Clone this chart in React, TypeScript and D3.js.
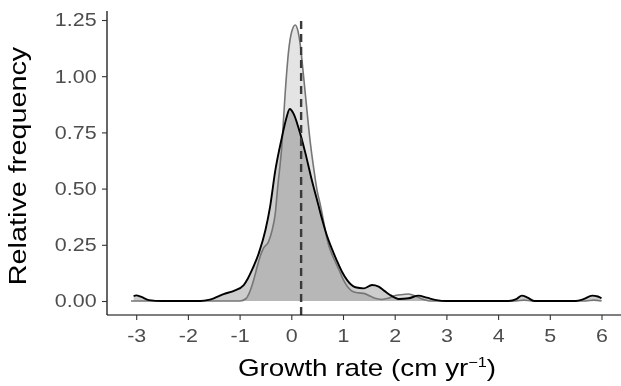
import React, { useEffect, useRef } from "react";
import * as d3 from "d3";

// density of growth rate, light series (gray outline)
const lightX = [-3.1, -2.0, -1.2, -0.99, -0.88, -0.79, -0.72, -0.66, -0.6, -0.54, -0.44, -0.37, -0.31, -0.27, -0.18, -0.12, -0.05, 0.01, 0.077, 0.13, 0.17, 0.22, 0.27, 0.37, 0.44, 0.5, 0.56, 0.62, 0.66, 0.72, 0.82, 0.92, 1.01, 1.1, 1.2, 1.3, 1.4, 1.52, 1.62, 1.75, 1.87, 1.98, 2.12, 2.27, 2.43, 2.56, 2.69, 2.9, 4.35, 4.5, 4.65, 5.7, 5.85, 6.0];
const lightY = [0, 0, 0, 0, 0.01, 0.049, 0.1, 0.152, 0.2, 0.234, 0.264, 0.316, 0.39, 0.49, 0.7, 0.92, 1.117, 1.2, 1.228, 1.2, 1.146, 1.04, 0.924, 0.7, 0.58, 0.49, 0.43, 0.36, 0.31, 0.25, 0.19, 0.14, 0.093, 0.06, 0.041, 0.036, 0.034, 0.022, 0.012, 0.007, 0.012, 0.022, 0.028, 0.031, 0.019, 0.007, 0, 0, 0, 0.004, 0, 0, 0.004, 0];

// density of growth rate, dark series (black outline)
const darkX = [-3.05, -3.0, -2.9, -2.75, -2.5, -1.76, -1.6, -1.5, -1.31, -1.12, -0.92, -0.84, -0.76, -0.63, -0.5, -0.41, -0.31, -0.18, -0.1, -0.03, 0.05, 0.14, 0.27, 0.4, 0.52, 0.6, 0.69, 0.78, 0.88, 0.98, 1.08, 1.16, 1.24, 1.4, 1.56, 1.69, 1.8, 1.91, 2.0, 2.08, 2.27, 2.46, 2.62, 2.81, 3.0, 4.2, 4.35, 4.46, 4.57, 4.7, 5.5, 5.65, 5.82, 5.93, 6.0];
const darkY = [0.022, 0.025, 0.018, 0.004, 0, 0, 0.005, 0.012, 0.031, 0.044, 0.071, 0.1, 0.138, 0.212, 0.316, 0.42, 0.58, 0.73, 0.81, 0.854, 0.83, 0.77, 0.66, 0.535, 0.43, 0.36, 0.29, 0.235, 0.18, 0.13, 0.093, 0.072, 0.061, 0.056, 0.071, 0.064, 0.045, 0.027, 0.015, 0.009, 0.012, 0.024, 0.015, 0.004, 0, 0, 0.008, 0.024, 0.015, 0, 0, 0.008, 0.024, 0.02, 0.012];

const meanGrowth = 0.19;

const xTicks = [-3, -2, -1, 0, 1, 2, 3, 4, 5, 6];
const yTicks = [0, 0.25, 0.5, 0.75, 1.0, 1.25];

const width = 621;
const height = 386;
const font = "'Liberation Sans', Arial, sans-serif";
const stretch = 1.16; // the reference text is a little wider than Arial

const DensityChart = () => {
  const svgRef = useRef<SVGSVGElement>(null);

  useEffect(() => {
    const svg = d3.select(svgRef.current);
    svg.selectAll("*").remove();

    const panel = { left: 107, right: 625, top: 11, bottom: 315 };

    const x = d3.scaleLinear().domain([-3, 6]).range([136.2, 601.5]);
    const y = d3.scaleLinear().domain([0, 1.25]).range([301, 20]);

    const area = d3
      .area<[number, number]>()
      .x(d => x(d[0]))
      .y0(y(0))
      .y1(d => y(d[1]))
      .curve(d3.curveMonotoneX);
    const line = d3
      .line<[number, number]>()
      .x(d => x(d[0]))
      .y(d => y(d[1]))
      .curve(d3.curveMonotoneX);

    const light = lightX.map((v, i) => [v, lightY[i]] as [number, number]);
    const dark = darkX.map((v, i) => [v, darkY[i]] as [number, number]);

    const g = svg.append("g");
    g.append("path")
      .attr("d", area(light))
      .attr("fill", "#e4e4e4")
      .style("mix-blend-mode", "multiply");
    g.append("path")
      .attr("d", area(dark))
      .attr("fill", "#cdcdcd")
      .style("mix-blend-mode", "multiply");
    g.append("path")
      .attr("d", line(light))
      .attr("fill", "none")
      .attr("stroke", "#767676")
      .attr("stroke-width", 1.6);
    g.append("path")
      .attr("d", line(dark))
      .attr("fill", "none")
      .attr("stroke", "#000")
      .attr("stroke-width", 1.9);

    // mean line
    svg.append("line")
      .attr("x1", x(meanGrowth))
      .attr("x2", x(meanGrowth))
      .attr("y1", panel.top + 10)
      .attr("y2", panel.bottom + 3)
      .attr("stroke", "#3a3a3a")
      .attr("stroke-width", 2.4)
      .attr("stroke-dasharray", "8,5");

    // axes
    const xAxis = svg.append("g")
      .attr("transform", `translate(0,${panel.bottom})`)
      .call(d3.axisBottom(x).tickValues(xTicks).tickSize(5).tickPadding(9).tickFormat(d => String(d)));
    xAxis.select(".domain").attr("d", `M${panel.left},0H${panel.right}`).attr("stroke-width", 1.2);

    const yAxis = svg.append("g")
      .attr("transform", `translate(${panel.left},0)`)
      .call(d3.axisLeft(y).tickValues(yTicks).tickSize(5).tickPadding(4).tickFormat(d3.format(".2f")));
    yAxis.select(".domain").attr("d", `M0,${panel.top}V${panel.bottom}`).attr("stroke-width", 1.2);

    svg.selectAll(".tick line").attr("stroke", "#333").attr("stroke-width", 1.1);
    svg.selectAll(".tick text")
      .attr("fill", "#4d4d4d")
      .attr("transform", `scale(${stretch},1)`)
      .style("font-size", "18.5px")
      .style("font-family", font);

    // axis titles
    const xTitle = svg.append("text")
      .attr("transform", `translate(367,376) scale(${stretch},1)`)
      .attr("text-anchor", "middle")
      .style("font-size", "24px")
      .style("font-family", font)
      .attr("fill", "#000");
    xTitle.append("tspan").text("Growth rate (cm yr");
    xTitle.append("tspan").attr("dy", -9).style("font-size", "14px").text("−1");
    xTitle.append("tspan").attr("dy", 9).text(")");

    svg.append("text")
      .attr("transform", "translate(26,166) rotate(-90) scale(1.2,1)")
      .attr("text-anchor", "middle")
      .style("font-size", "24px")
      .style("font-family", font)
      .attr("fill", "#000")
      .text("Relative frequency");
  }, []);

  return (
    <svg
      ref={svgRef}
      width={width}
      height={height}
      style={{ position: "absolute", left: 0, top: 0, background: "#fff" }}
    />
  );
};

export default function App() {
  return (
    <div>
      <DensityChart />
    </div>
  );
}
